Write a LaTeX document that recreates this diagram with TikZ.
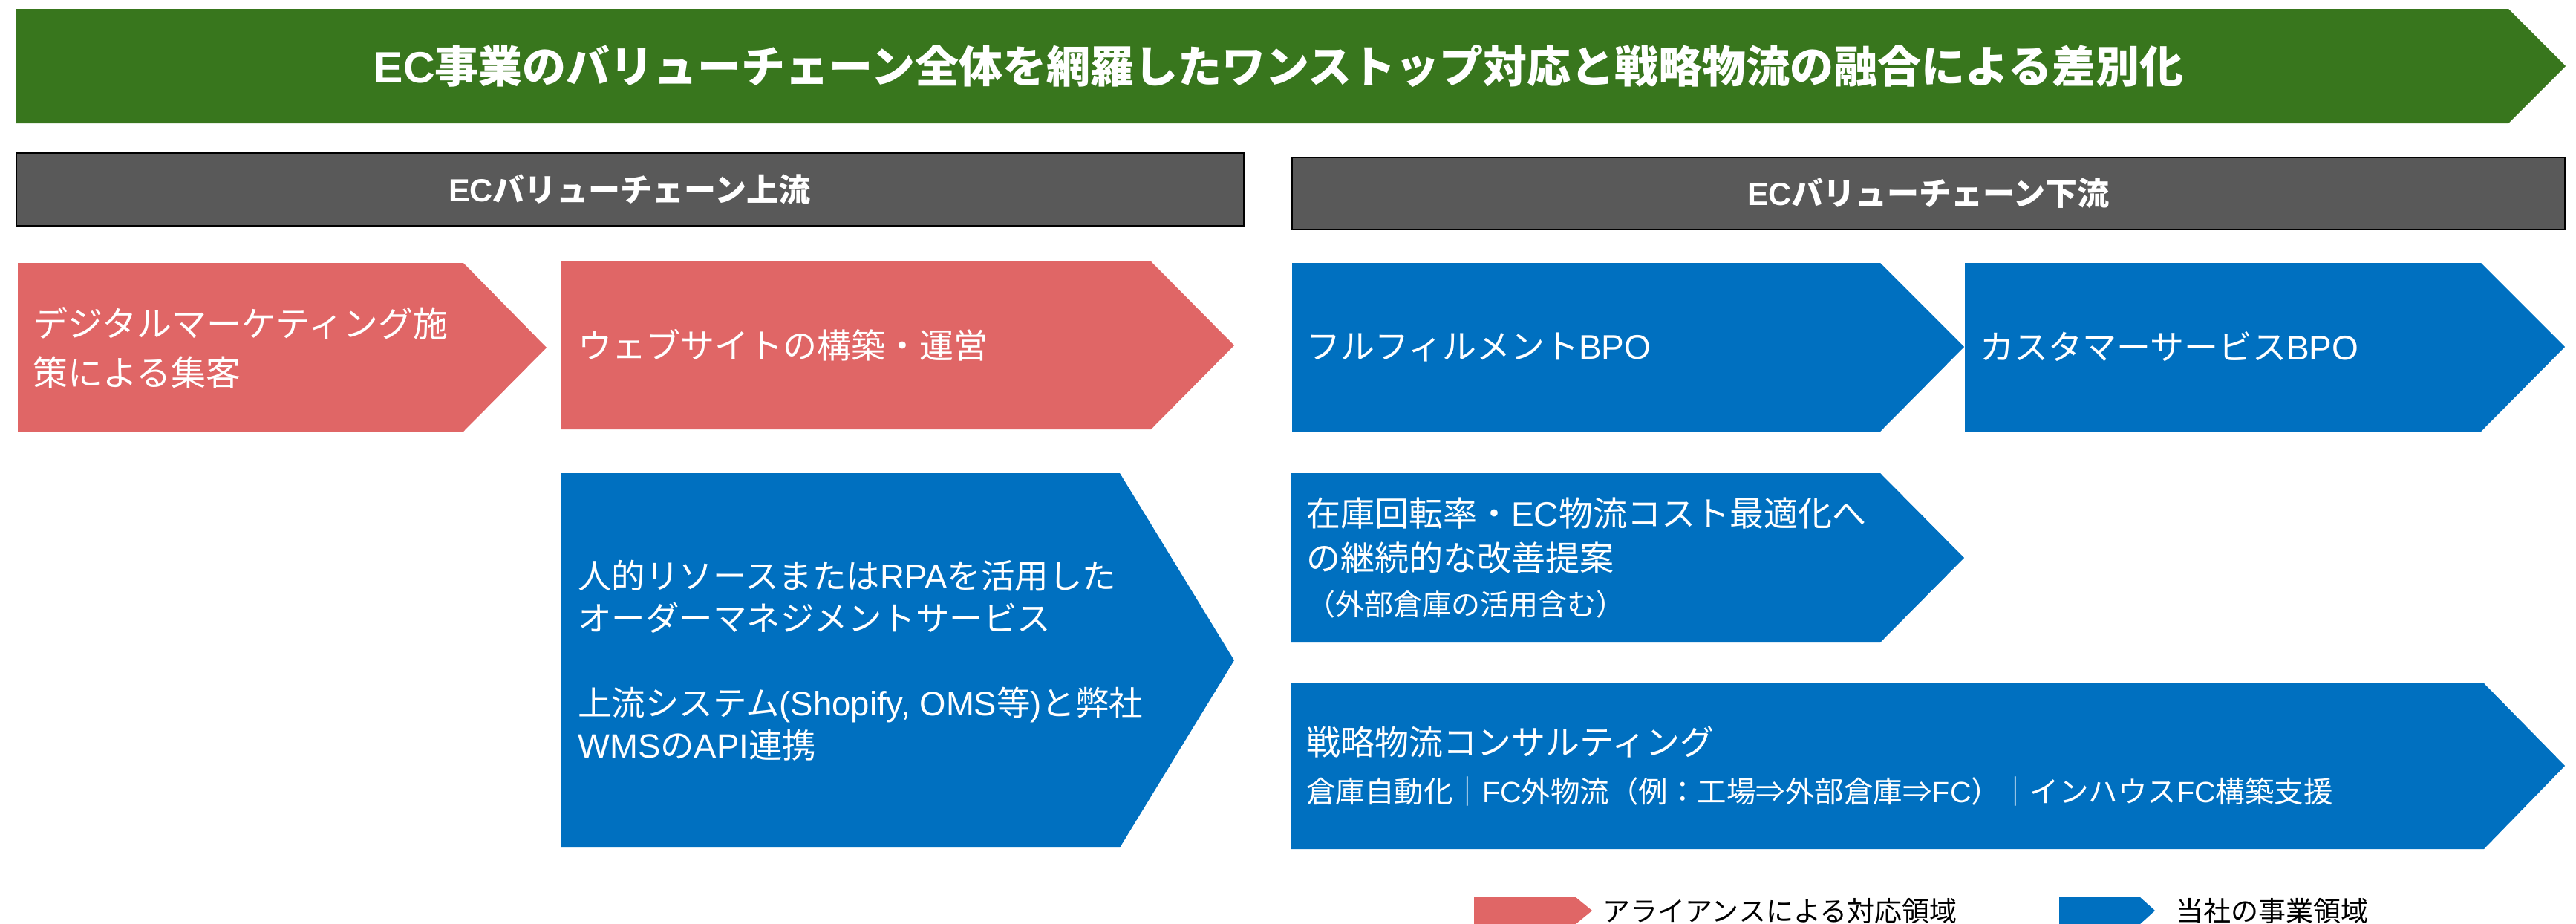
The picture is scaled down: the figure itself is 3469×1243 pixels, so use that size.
\documentclass[tikz,border=0pt]{standalone}
\usepackage{fontspec}
\setmainfont{Noto Sans CJK JP}
\newfontfamily\lat{Liberation Sans}
\definecolor{greenc}{HTML}{38761D}
\definecolor{pinkc}{HTML}{E06666}
\definecolor{bluec}{HTML}{0070C0}
\definecolor{grayc}{HTML}{595959}
\tikzset{
  banner/.style={fill=greenc, draw=none},
  pinkshape/.style={fill=pinkc, draw=none},
  blueshape/.style={fill=bluec, draw=none},
  headbox/.style={fill=grayc, draw=black, line width=2.5pt},
  titletxt/.style={text=white, inner sep=0pt, font=\fontsize{59}{70}\selectfont\bfseries},
  headtxt/.style={text=white, inner sep=0pt, font=\fontsize{43}{50}\selectfont\bfseries},
  bodytxt/.style={text=white, anchor=west, align=left, inner sep=0pt, font=\fontsize{46}{64}\selectfont},
  legtxt/.style={text=black, anchor=west, inner sep=0pt, font=\fontsize{37}{44}\selectfont},
}
\begin{document}
\begin{tikzpicture}[x=1pt,y=-1pt]
\useasboundingbox (0,0) rectangle (3469,1243);
% banner
\path[banner] (22,12) -- (3378,12) -- (3455,89) -- (3378,166) -- (22,166) -- cycle;
\node[titletxt] (title) at (1722,89) {{\lat EC}事業のバリューチェーン全体を網羅したワンストップ対応と戦略物流の融合による差別化};
% headers
\draw[headbox] (22,206) rectangle (1675,304);
\node[headtxt] (upstream) at (848,255) {{\lat EC}バリューチェーン上流};
\draw[headbox] (1740,212) rectangle (3454,309);
\node[headtxt] (downstream) at (2597,260) {{\lat EC}バリューチェーン下流};
% pink shapes
\path[pinkshape] (24,354) -- (624,354) -- (736,468) -- (624,581) -- (24,581) -- cycle;
\node[bodytxt, font=\fontsize{47}{66}\selectfont] (digital) at (44,468) {デジタルマーケティング施\\策による集客};
\path[pinkshape] (756,352) -- (1550,352) -- (1662,465) -- (1550,578) -- (756,578) -- cycle;
\node[bodytxt] (website) at (778,465) {ウェブサイトの構築・運営};
% blue shapes
\path[blueshape] (1740,354) -- (2532,354) -- (2645,467) -- (2532,581) -- (1740,581) -- cycle;
\node[bodytxt] (fulfil) at (1759,467) {フルフィルメント{\lat BPO}};
\path[blueshape] (2646,354) -- (3341,354) -- (3454,467) -- (3341,581) -- (2646,581) -- cycle;
\node[bodytxt] (custsrv) at (2666,467) {カスタマーサービス{\lat BPO}};
\path[blueshape] (756,637) -- (1508,637) -- (1662,889) -- (1508,1141) -- (756,1141) -- cycle;
\node[bodytxt, font=\fontsize{45.5}{57}\selectfont] (order) at (778,889) {人的リソースまたは{\lat RPA}を活用した\\オーダーマネジメントサービス\\[57pt]上流システム{\lat (Shopify, OMS}等{\lat )}と弊社\\{\lat WMS}の{\lat API}連携};
\path[blueshape] (1739,637) -- (2532,637) -- (2645,751) -- (2532,865) -- (1739,865) -- cycle;
\node[bodytxt, font=\fontsize{46}{60}\selectfont] (stock) at (1759,751) {在庫回転率・{\lat EC}物流コスト最適化へ\\の継続的な改善提案\\{\fontsize{39}{56}\selectfont （外部倉庫の活用含む）}};
\path[blueshape] (1739,920) -- (3345,920) -- (3454,1031) -- (3345,1143) -- (1739,1143) -- cycle;
\node[bodytxt, font=\fontsize{46}{64}\selectfont] (consult) at (1759,1031) {戦略物流コンサルティング\\{\fontsize{39.5}{64}\selectfont 倉庫自動化｜{\lat FC}外物流（例：工場⇒外部倉庫⇒{\lat FC}）｜インハウス{\lat FC}構築支援}};
% legend
\path[pinkshape] (1985,1208) -- (2122,1208) -- (2144,1226) -- (2122,1244) -- (1985,1244) -- cycle;
\node[legtxt] (legpink) at (2158,1226) {アライアンスによる対応領域};
\path[blueshape] (2773,1208) -- (2882,1208) -- (2902,1226) -- (2882,1244) -- (2773,1244) -- cycle;
\node[legtxt] (legblue) at (2930,1226) {当社の事業領域};
\end{tikzpicture}
\end{document}
